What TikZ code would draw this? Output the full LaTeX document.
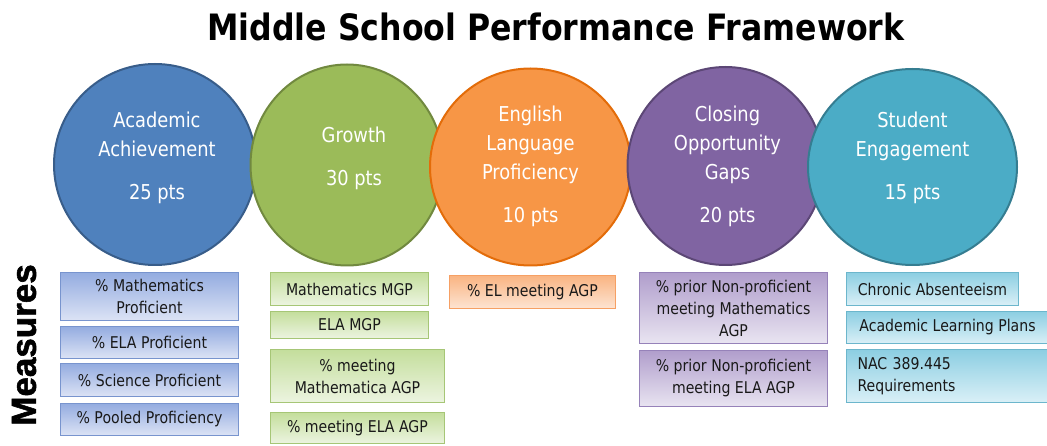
\documentclass[tikz,border=0pt]{standalone}
\usepackage{fontspec}
\setmainfont{DejaVu Sans}[FakeStretch=0.87]
\newfontfamily\headfont{Liberation Sans}[BoldFeatures={FakeBold=1.6}]
\usetikzlibrary{positioning,shapes.geometric}

\definecolor{accblue}{HTML}{4F81BD}
\definecolor{accblueline}{HTML}{385D8A}
\definecolor{accgreen}{HTML}{9BBB59}
\definecolor{accgreenline}{HTML}{71893F}
\definecolor{accorange}{HTML}{F79646}
\definecolor{accorangeline}{HTML}{E36C09}
\definecolor{accpurple}{HTML}{8064A2}
\definecolor{accpurpleline}{HTML}{5C4776}
\definecolor{accteal}{HTML}{4BACC6}
\definecolor{acctealline}{HTML}{357D91}

\tikzset{
  pillar/.style={ellipse, line width=2pt, inner sep=0pt},
  pillartext/.style={text=white, align=center, font=\fontsize{20.5}{29}\selectfont},
  measure/.style={draw, line width=1pt, inner sep=2pt, align=center,
    text=black!90, font=\fontsize{16.2}{22}\selectfont},
  bluebox/.style={measure, top color={rgb,255:red,148;green,172;blue,224}, bottom color={rgb,255:red,220;green,227;blue,245}, draw={rgb,255:red,120;green,148;blue,206}},
  greenbox/.style={measure, top color={rgb,255:red,196;green,222;blue,156}, bottom color={rgb,255:red,236;green,244;blue,224}, draw={rgb,255:red,166;green,198;blue,118}},
  orangebox/.style={measure, top color={rgb,255:red,249;green,180;blue,130}, bottom color={rgb,255:red,253;green,228;blue,210}, draw={rgb,255:red,246;green,160;blue,100}},
  purplebox/.style={measure, top color={rgb,255:red,176;green,158;blue,204}, bottom color={rgb,255:red,233;green,228;blue,241}, draw={rgb,255:red,150;green,130;blue,185}},
  tealbox/.style={measure, top color={rgb,255:red,140;green,206;blue,226}, bottom color={rgb,255:red,218;green,240;blue,247}, draw={rgb,255:red,108;green,182;blue,204}},
}

\begin{document}
\begin{tikzpicture}[x=1pt, y=-1pt]
  \useasboundingbox[fill=white] (0,0) rectangle (1047,446);

  \node[anchor=base, font=\fontsize{36.3}{42}\selectfont\bfseries] (title) at (556,41)
    {Middle School Performance Framework};
  \node[rotate=90, font=\headfont\bfseries\fontsize{35}{40}\selectfont] (measures) at (24,345) {Measures};

  % the five pillars
  \node[pillar, fill=accblue, draw=accblueline, minimum width=202, minimum height=201] (ach) at (155,164.5) {};
  \node[pillar, fill=accgreen, draw=accgreenline, minimum width=193, minimum height=201] (gro) at (347,165) {};
  \node[pillar, fill=accorange, draw=accorangeline, minimum width=201, minimum height=197] (elp) at (530.5,167) {};
  \node[pillar, fill=accpurple, draw=accpurpleline, minimum width=196, minimum height=198] (gap) at (725.5,166) {};
  \node[pillar, fill=accteal, draw=acctealline, minimum width=209, minimum height=196] (eng) at (912.5,167) {};

  \node[pillartext, yshift=7pt, xshift=2pt] (achtxt) at (ach) {Academic\\Achievement\\[14pt]25 pts};
  \node[pillartext, yshift=7pt, xshift=7pt] (grotxt) at (gro) {Growth\\[14pt]30 pts};
  \node[pillartext, yshift=1pt] (elptxt) at (elp) {English\\Language\\Proficiency\\[14pt]10 pts};
  \node[pillartext, yshift=0pt, xshift=2pt] (gaptxt) at (gap) {Closing\\Opportunity\\Gaps\\[14pt]20 pts};
  \node[pillartext, yshift=9pt] (engtxt) at (eng) {Student\\Engagement\\[14pt]15 pts};

  % measures under each pillar
  \node[bluebox, anchor=north west, minimum width=178, minimum height=48] (b1) at (60,272) {\% Mathematics\\Proficient};
  \node[bluebox, minimum width=178, minimum height=32, below=5pt of b1] (b2) {\% ELA Proficient};
  \node[bluebox, minimum width=178, minimum height=33, below=4pt of b2] (b3) {\% Science Proficient};
  \node[bluebox, minimum width=178, minimum height=32, below=6pt of b3] (b4) {\% Pooled Proficiency};

  \node[greenbox, anchor=north west, minimum width=158, minimum height=33] (g1) at (270,272) {Mathematics MGP};
  \node[greenbox, minimum width=158, minimum height=27, below=5pt of g1] (g2) {ELA MGP};
  \node[greenbox, minimum width=174, minimum height=53, below=10pt of g2.south west, anchor=north west] (g3) {\% meeting\\Mathematica AGP};
  \node[greenbox, minimum width=174, minimum height=31, below=9pt of g3] (g4) {\% meeting ELA AGP};

  \node[orangebox, anchor=north west, minimum width=166, minimum height=33] (o1) at (449,275) {\% EL meeting AGP};

  \node[purplebox, anchor=north west, minimum width=188, minimum height=71] (p1) at (639,272)
    {\% prior Non-proficient\\meeting Mathematics\\AGP};
  \node[purplebox, minimum width=188, minimum height=56, below=6pt of p1] (p2)
    {\% prior Non-proficient\\meeting ELA AGP};

  \node[tealbox, anchor=north west, minimum width=172, minimum height=33] (t1) at (846,272) {Chronic Absenteeism};
  \node[tealbox, minimum width=202, minimum height=32, below=5pt of t1.south west, anchor=north west] (t2) {Academic Learning Plans};
  \node[tealbox, minimum width=202, minimum height=53, below=5pt of t2.south west, anchor=north west,
    align=left, text width=180, inner xsep=10pt] (t3) {NAC 389.445\\Requirements};
\end{tikzpicture}
\end{document}
